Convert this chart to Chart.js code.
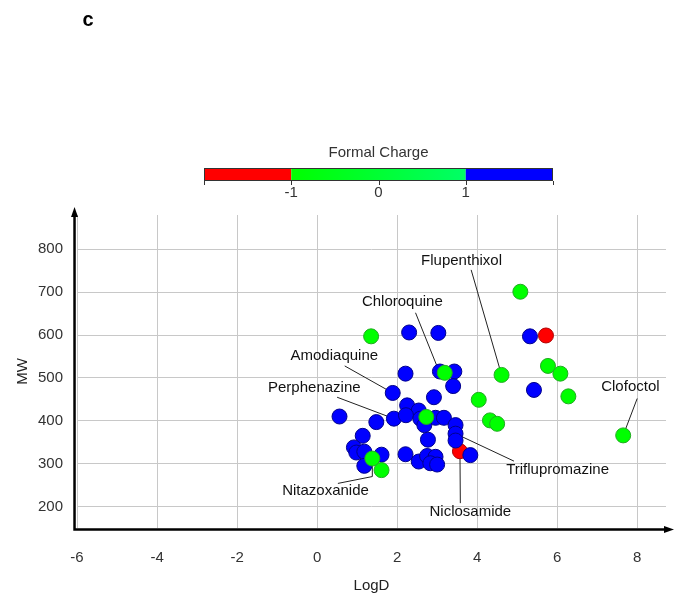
<!DOCTYPE html>
<html>
<head>
<meta charset="utf-8">
<script src="https://cdn.jsdelivr.net/npm/chart.js@4/dist/chart.umd.min.js"></script>
<style>
  html, body { margin: 0; padding: 0; background: #fff; }
  #wrap { width: 675px; height: 596px; }
</style>
</head>
<body>
<div id="wrap"><canvas id="chart" width="675" height="596"></canvas></div>
<script>
/* ---------- DATA ---------- */
// formal charge +1 (blue)
const positiveLogD = [2.30, 3.03, 3.07, 3.43, 2.21, 3.40, 1.89, 2.92, 2.25, 2.54, 0.56, 1.48, 1.92,
  2.22, 2.58, 2.96, 3.17, 2.68, 3.46, 3.46, 3.46, 2.77, 1.14, 0.92, 0.98, 1.18, 1.61, 1.18,
  2.21, 2.54, 2.75, 2.96, 2.83, 3.00, 3.83, 5.32, 5.42];
const positiveMW = [606, 605, 515, 515, 510, 481, 465, 455, 436, 424, 410, 397, 405,
  413, 405, 407, 407, 390, 390, 370, 354, 356, 365, 338, 326, 328, 321, 295,
  322, 305, 318, 316, 301, 298, 320, 597, 472];
// formal charge 0 (green)
const neutralLogD = [1.35, 3.19, 2.73, 1.38, 1.61, 4.04, 4.32, 4.50, 4.61, 5.08, 5.77, 6.08, 6.28, 7.65];
const neutralMW = [597, 512, 409, 312, 285, 449, 401, 393, 507, 701, 528, 510, 457, 366];
// formal charge -1 (red)
const negativeLogD = [3.57, 5.72];
const negativeMW = [329, 599];

const xTicks = [-6, -4, -2, 0, 2, 4, 6, 8];
const yTicks = [200, 300, 400, 500, 600, 700, 800];
const chargeTicks = [-1, 0, 1];
const chargeRange = [-2, 2];

// labelled compounds: text anchor and leader path, in data units
const callouts = [
  { name: 'Flupenthixol',    text: [3.61, 774], path: [[3.85, 752], [4.61, 507]] },
  { name: 'Chloroquine',     text: [2.13, 677], path: [[2.46, 652], [3.05, 515]] },
  { name: 'Amodiaquine',     text: [0.43, 552], path: [[0.69, 528], [1.89, 465]] },
  { name: 'Perphenazine',    text: [-0.07, 477], path: [[0.50, 455], [1.92, 405]] },
  { name: 'Triflupromazine', text: [6.01, 285], path: [[4.92, 306], [3.46, 370]] },
  { name: 'Nitazoxanide',    text: [0.21, 236], path: [[0.52, 254], [1.38, 270], [1.38, 312]] },
  { name: 'Niclosamide',     text: [3.83, 187], path: [[3.58, 208], [3.57, 329]] },
  { name: 'Clofoctol',       text: [7.83, 480], path: [[8.00, 452], [7.65, 366]] }
];

const FONT = "'Liberation Sans', Arial, sans-serif";
const toPoints = (xs, ys) => xs.map((x, i) => ({ x, y: ys[i] }));

/* ---------- PLUGINS ---------- */
const leaderLines = {
  id: 'leaderLines',
  beforeDatasetsDraw(chart) {
    const { ctx, scales: { x, y } } = chart;
    ctx.save();
    ctx.strokeStyle = '#222';
    ctx.lineWidth = 1;
    callouts.forEach(c => {
      ctx.beginPath();
      c.path.forEach((p, i) => {
        const px = x.getPixelForValue(p[0]), py = y.getPixelForValue(p[1]);
        i ? ctx.lineTo(px, py) : ctx.moveTo(px, py);
      });
      ctx.stroke();
    });
    ctx.restore();
  },
  afterDatasetsDraw(chart) {
    const { ctx, scales: { x, y } } = chart;
    ctx.save();
    ctx.fillStyle = '#111';
    ctx.font = `15px ${FONT}`;
    ctx.textAlign = 'center';
    ctx.textBaseline = 'middle';
    callouts.forEach(c => {
      ctx.fillText(c.name, x.getPixelForValue(c.text[0]), y.getPixelForValue(c.text[1]));
    });
    ctx.restore();
  }
};

const axesArrows = {
  id: 'axesArrows',
  afterDraw(chart) {
    const { ctx, chartArea: a } = chart;
    const ox = a.left - 2.5, oy = a.bottom + 1.5;
    const topY = a.top - 8, rightX = a.right + 8;
    ctx.save();
    ctx.strokeStyle = '#000';
    ctx.fillStyle = '#000';
    ctx.lineWidth = 2.5;
    ctx.beginPath();
    ctx.moveTo(ox, topY + 6);
    ctx.lineTo(ox, oy);
    ctx.lineTo(rightX - 6, oy);
    ctx.stroke();
    // arrow heads
    ctx.beginPath();
    ctx.moveTo(ox, topY);
    ctx.lineTo(ox - 3.5, topY + 10);
    ctx.lineTo(ox + 3.5, topY + 10);
    ctx.closePath();
    ctx.fill();
    ctx.beginPath();
    ctx.moveTo(rightX, oy);
    ctx.lineTo(rightX - 10, oy - 3.5);
    ctx.lineTo(rightX - 10, oy + 3.5);
    ctx.closePath();
    ctx.fill();

    // panel letter
    ctx.font = `bold 20px ${FONT}`;
    ctx.textAlign = 'center';
    ctx.textBaseline = 'middle';
    ctx.fillText('c', 88, 20);
    ctx.restore();
  }
};

const chargeBar = {
  id: 'chargeBar',
  afterDraw(chart) {
    const { ctx } = chart;
    const left = 204, right = 553, top = 168, h = 13;
    const w = right - left;
    const px = v => left + (v - chargeRange[0]) / (chargeRange[1] - chargeRange[0]) * w;
    ctx.save();
    ctx.fillStyle = '#ff0000';
    ctx.fillRect(px(-2), top, px(-1) - px(-2), h);
    const g = ctx.createLinearGradient(px(-1), 0, px(1), 0);
    g.addColorStop(0, '#00ff00');
    g.addColorStop(1, '#00ff66');
    ctx.fillStyle = g;
    ctx.fillRect(px(-1), top, px(1) - px(-1), h);
    ctx.fillStyle = '#0000ff';
    ctx.fillRect(px(1), top, px(2) - px(1), h);
    ctx.strokeStyle = '#333';
    ctx.lineWidth = 1;
    ctx.strokeRect(left + 0.5, top + 0.5, w - 1, h - 1);
    // tick marks
    ctx.beginPath();
    [chargeRange[0], ...chargeTicks, chargeRange[1]].forEach(v => {
      const x = Math.round(px(v)) + 0.5;
      ctx.moveTo(x, top + h);
      ctx.lineTo(x, top + h + 4);
    });
    ctx.stroke();
    ctx.fillStyle = '#333';
    ctx.font = `15px ${FONT}`;
    ctx.textAlign = 'center';
    ctx.textBaseline = 'middle';
    chargeTicks.forEach(v => ctx.fillText(String(v), px(v), 193));
    ctx.fillText('Formal Charge', px(0), 153);
    ctx.restore();
  }
};

/* ---------- CHART ---------- */
const dot = (fill, edge, order) => ({
  backgroundColor: fill,
  borderColor: edge,
  borderWidth: 1,
  pointRadius: 7.5,
  pointHoverRadius: 7.5,
  order
});

new Chart(document.getElementById('chart'), {
  type: 'scatter',
  data: {
    datasets: [
      { label: '0', data: toPoints(neutralLogD, neutralMW), ...dot('#00ff00', '#22aa22', 1) },
      { label: '+1', data: toPoints(positiveLogD, positiveMW), ...dot('#0000ff', '#00008c', 2) },
      { label: '-1', data: toPoints(negativeLogD, negativeMW), ...dot('#ff0000', '#b00000', 3) }
    ]
  },
  options: {
    responsive: false,
    devicePixelRatio: 1,
    animation: false,
    layout: { padding: { top: 215, right: 9, bottom: 1, left: 14 } },
    plugins: { legend: { display: false }, tooltip: { enabled: false } },
    scales: {
      x: {
        min: -6, max: 8.72,
        afterBuildTicks: s => { s.ticks = xTicks.map(v => ({ value: v })); },
        grid: { color: '#c8c8c8', lineWidth: 1, drawTicks: false },
        border: { display: false },
        ticks: { color: '#333', font: { family: FONT, size: 15 }, padding: 21 },
        title: { display: true, text: 'LogD', color: '#222', font: { family: FONT, size: 15 }, padding: { top: -11, bottom: 0 } }
      },
      y: {
        min: 150, max: 880,
        afterBuildTicks: s => { s.ticks = yTicks.map(v => ({ value: v })); },
        grid: { color: '#c8c8c8', lineWidth: 1, drawTicks: false },
        border: { display: false },
        ticks: { color: '#333', font: { family: FONT, size: 15 }, padding: 14 },
        title: { display: true, text: 'MW', color: '#222', font: { family: FONT, size: 15 }, padding: { top: 0, bottom: -8 } }
      }
    }
  },
  plugins: [leaderLines, axesArrows, chargeBar]
});
</script>
</body>
</html>
